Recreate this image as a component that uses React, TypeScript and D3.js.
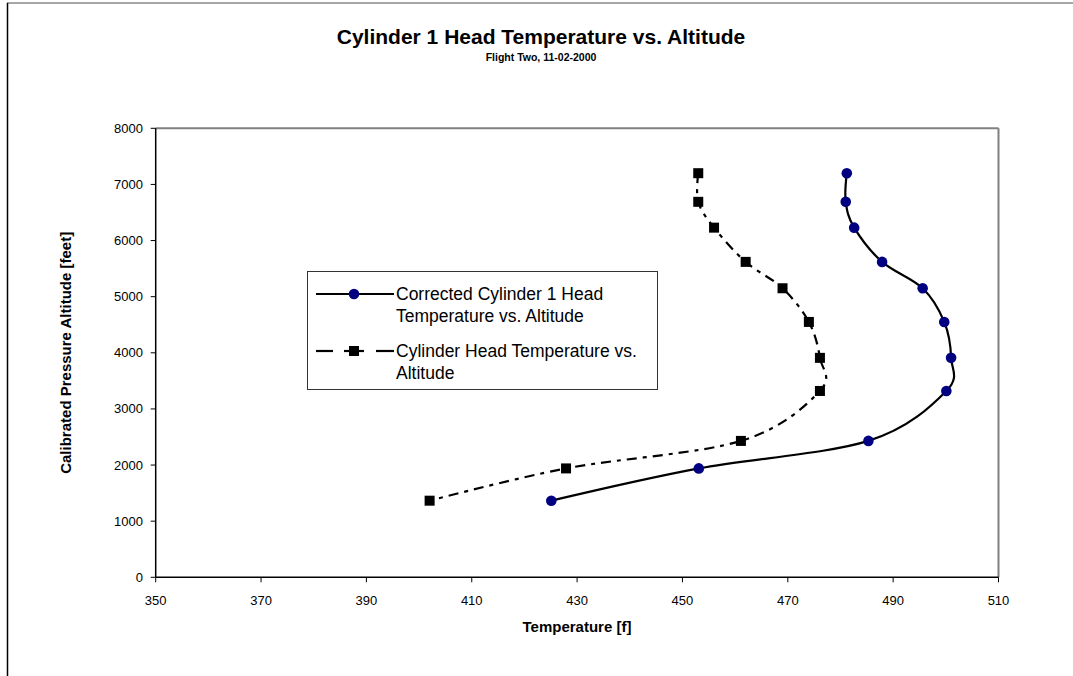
import React from 'react';
import * as d3 from 'd3';

// altitude steps [feet], shared by both series
const altitude = [7200, 6690, 6230, 5620, 5150, 4550, 3910, 3320, 2430, 1940, 1365];
// corrected cylinder 1 head temperature [f]
const correctedTemp = [481.2, 481.0, 482.6, 487.9, 495.6, 499.7, 501.0, 500.1, 485.3, 453.1, 425.1];
// raw cylinder head temperature [f]
const rawTemp = [453.0, 453.0, 456.0, 462.0, 469.0, 474.0, 476.1, 476.1, 461.1, 427.9, 402.0];

const xTicks = [350, 370, 390, 410, 430, 450, 470, 490, 510];
const yTicks = [0, 1000, 2000, 3000, 4000, 5000, 6000, 7000, 8000];

const W = 1073;
const H = 676;
const FONT = 'Arial, "Liberation Sans", sans-serif';

export default function App() {
  const x = d3.scaleLinear().domain([350, 510]).range([155.7, 998.5]);
  const y = d3.scaleLinear().domain([0, 8000]).range([577.3, 128.3]);

  const line = d3
    .line<[number, number]>()
    .x(d => x(d[0]))
    .y(d => y(d[1]))
    .curve(d3.curveCardinal.tension(0));

  const corrected: [number, number][] = correctedTemp.map((t, i) => [t, altitude[i]]);
  const raw: [number, number][] = rawTemp.map((t, i) => [t, altitude[i]]);

  const x0 = x.range()[0];
  const x1 = x.range()[1];
  const y0 = y.range()[0];
  const y1 = y.range()[1];

  // legend
  const lgX = 307;
  const lgY = 271;
  const lgW = 350;
  const lgH = 118;

  return (
    <svg
      width={W}
      height={H}
      style={{ position: 'absolute', left: 0, top: 0, background: '#fff' }}
      fontFamily={FONT}
    >
      {/* outer chart frame, cut by the window */}
      <line x1={7} y1={3} x2={W} y2={3} stroke="#888" strokeWidth={1.5} />
      <line x1={7.5} y1={3} x2={7.5} y2={H} stroke="#000" strokeWidth={1.5} />

      {/* titles */}
      <text x={541} y={44} textAnchor="middle" fontSize={21} fontWeight="bold">
        Cylinder 1 Head Temperature vs. Altitude
      </text>
      <text x={541} y={61} textAnchor="middle" fontSize={10.5} fontWeight="bold">
        Flight Two, 11-02-2000
      </text>

      {/* plot area frame */}
      <line x1={x0} y1={y1} x2={x1} y2={y1} stroke="#808080" strokeWidth={2} />
      <line x1={x1} y1={y1} x2={x1} y2={y0} stroke="#808080" strokeWidth={2} />
      <line x1={x0} y1={y0} x2={x1} y2={y0} stroke="#000" strokeWidth={1.5} />
      <line x1={x0} y1={y0} x2={x0} y2={y1} stroke="#000" strokeWidth={1.5} />

      {/* y axis */}
      {yTicks.map(t => (
        <g key={'y' + t}>
          <line x1={x0 - 5} x2={x0} y1={y(t)} y2={y(t)} stroke="#000" strokeWidth={1} />
          <text x={143} y={y(t)} dy="0.35em" textAnchor="end" fontSize={13}>
            {t}
          </text>
        </g>
      ))}
      {/* x axis */}
      {xTicks.map(t => (
        <g key={'x' + t}>
          <line x1={x(t)} x2={x(t)} y1={y0} y2={y0 + 5} stroke="#000" strokeWidth={1} />
          <text x={x(t)} y={605} textAnchor="middle" fontSize={13}>
            {t}
          </text>
        </g>
      ))}

      <text x={577} y={632} textAnchor="middle" fontSize={15} fontWeight="bold">
        Temperature [f]
      </text>
      <text
        transform={`translate(71, ${(y0 + y1) / 2}) rotate(-90)`}
        textAnchor="middle"
        fontSize={15}
        fontWeight="bold"
      >
        Calibrated Pressure Altitude [feet]
      </text>

      {/* raw series */}
      <path d={line(raw) || ''} fill="none" stroke="#000" strokeWidth={2.2} strokeDasharray="10,6,4,6" />
      {raw.map((d, i) => (
        <rect key={'r' + i} x={x(d[0]) - 5} y={y(d[1]) - 5} width={10} height={10} fill="#000" />
      ))}

      {/* corrected series */}
      <path d={line(corrected) || ''} fill="none" stroke="#000" strokeWidth={2.2} />
      {corrected.map((d, i) => (
        <circle key={'c' + i} cx={x(d[0])} cy={y(d[1])} r={5.3} fill="#000080" />
      ))}

      {/* legend */}
      <rect x={lgX + 0.5} y={lgY + 0.5} width={lgW} height={lgH} fill="#fff" stroke="#333" strokeWidth={1} />
      <line x1={316} x2={394} y1={294} y2={294} stroke="#000" strokeWidth={2.2} />
      <circle cx={354} cy={294} r={5.3} fill="#000080" />
      <line x1={316} x2={333} y1={351} y2={351} stroke="#000" strokeWidth={2.2} />
      <line x1={344} x2={364} y1={351} y2={351} stroke="#000" strokeWidth={2.2} />
      <line x1={376} x2={394} y1={351} y2={351} stroke="#000" strokeWidth={2.2} />
      <rect x={349} y={346} width={10} height={10} fill="#000" />
      <text fontSize={17.5} x={396}>
        <tspan x={396} y={300}>Corrected Cylinder 1 Head</tspan>
        <tspan x={396} y={322}>Temperature vs. Altitude</tspan>
        <tspan x={396} y={357}>Cylinder Head Temperature vs.</tspan>
        <tspan x={396} y={379}>Altitude</tspan>
      </text>
    </svg>
  );
}
